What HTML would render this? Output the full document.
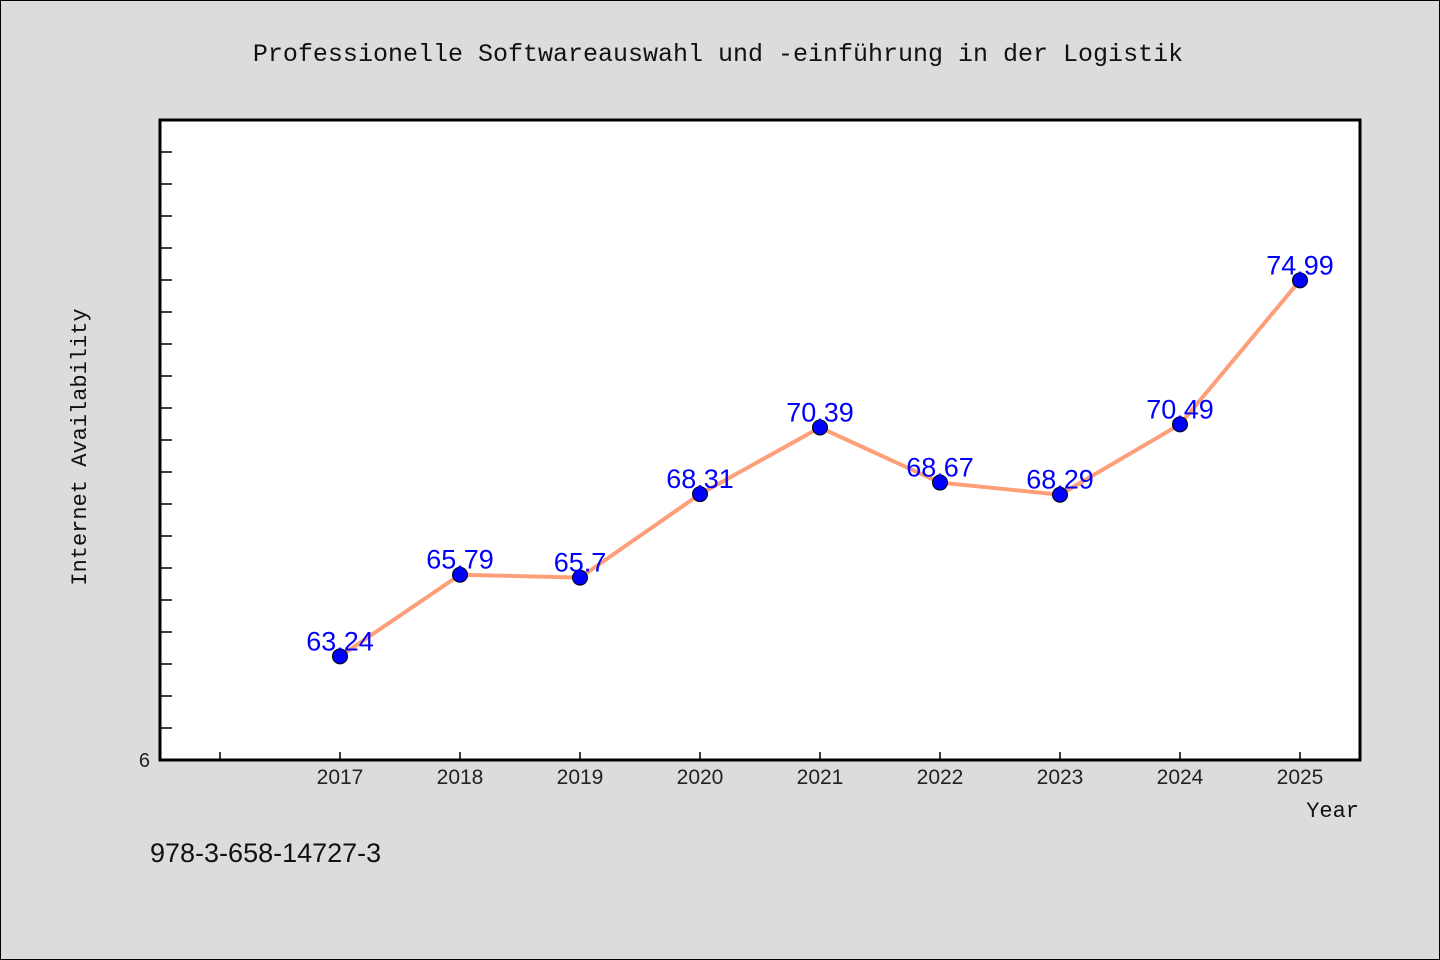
<!DOCTYPE html>
<html><head><meta charset="utf-8"><style>
html,body{margin:0;padding:0;background:#dcdcdc;}
svg{display:block;}
</style></head><body>
<svg width="1440" height="960" xmlns="http://www.w3.org/2000/svg">
<rect x="0.5" y="0.5" width="1439" height="959" fill="#dcdcdc" stroke="#000"/>
<text x="718" y="61" text-anchor="middle" font-family="Liberation Mono, monospace" font-size="25" fill="#111">Professionelle Softwareauswahl und -einführung in der Logistik</text>
<rect x="160" y="120" width="1200" height="640" fill="#fff"/>
<g id="ticks"></g>
<g id="series"></g>
<rect x="160" y="120" width="1200" height="640" fill="none" stroke="#000" stroke-width="3"/>
<text x="150" y="767" text-anchor="end" font-family="Liberation Sans, sans-serif" font-size="20" fill="#222">6</text>
<text x="86" y="447" text-anchor="middle" transform="rotate(-90 86 447)" font-family="Liberation Mono, monospace" font-size="22" fill="#111">Internet Availability</text>
<text x="1359" y="817" text-anchor="end" font-family="Liberation Mono, monospace" font-size="22" fill="#111">Year</text>
<text x="150" y="862" font-family="Liberation Sans, sans-serif" font-size="27" fill="#111">978-3-658-14727-3</text>
</svg>
<script>
const years = [2017,2018,2019,2020,2021,2022,2023,2024,2025];
const values = [63.24,65.79,65.7,68.31,70.39,68.67,68.29,70.49,74.99];
const labels = ["63.24","65.79","65.7","68.31","70.39","68.67","68.29","70.49","74.99"];
const yMin = 60, yMax = 80;
const xMin = 2015.5, xMax = 2025.5;
const NS = "http://www.w3.org/2000/svg";
function xs(v){ return 160 + (v - xMin) / (xMax - xMin) * 1200; }
function ys(v){ return 760 - (v - yMin) / (yMax - yMin) * 640; }
function mk(tag, attrs){ const e = document.createElementNS(NS, tag); for (const k in attrs) e.setAttribute(k, attrs[k]); return e; }
const tg = document.getElementById('ticks');
for (let v = yMin + 1; v < yMax; v++) {
  const t = mk('line', {x1:160, x2:172, y1:ys(v), y2:ys(v), stroke:'#000', 'stroke-width':1.5});
  
  
  tg.appendChild(t);
}
for (let yr = 2016; yr <= 2025; yr++) {
  const t = mk('line', {x1:xs(yr), x2:xs(yr), y1:752, y2:760, stroke:'#000', 'stroke-width':1.5});
  
  
  tg.appendChild(t);
}
years.forEach(yr => {
  const t = mk('text', {x:xs(yr), y:784, 'text-anchor':'middle', 'font-family':'Liberation Sans, sans-serif', 'font-size':21, fill:'#222'});
  t.textContent = yr;
  
  
  tg.appendChild(t);
});
const sg = document.getElementById('series');
const pts = years.map((yr, i) => xs(yr) + ',' + ys(values[i])).join(' ');
const line = mk('polyline', {points:pts, fill:'none', stroke:'#ff9f7a', 'stroke-width':4, 'stroke-linejoin':'round'});


sg.appendChild(line);
years.forEach((yr, i) => {
  const c = mk('circle', {cx:xs(yr), cy:ys(values[i]), r:7.5, fill:'#0000ff', stroke:'#000', 'stroke-width':1});
  
  
  sg.appendChild(c);
  const t = mk('text', {x:xs(yr), y:ys(values[i]) - 6, 'text-anchor':'middle', 'font-family':'Liberation Sans, sans-serif', 'font-size':27, fill:'#0000ff'});
  t.textContent = labels[i];
  
  
  sg.appendChild(t);
});
</script>
</body></html>
